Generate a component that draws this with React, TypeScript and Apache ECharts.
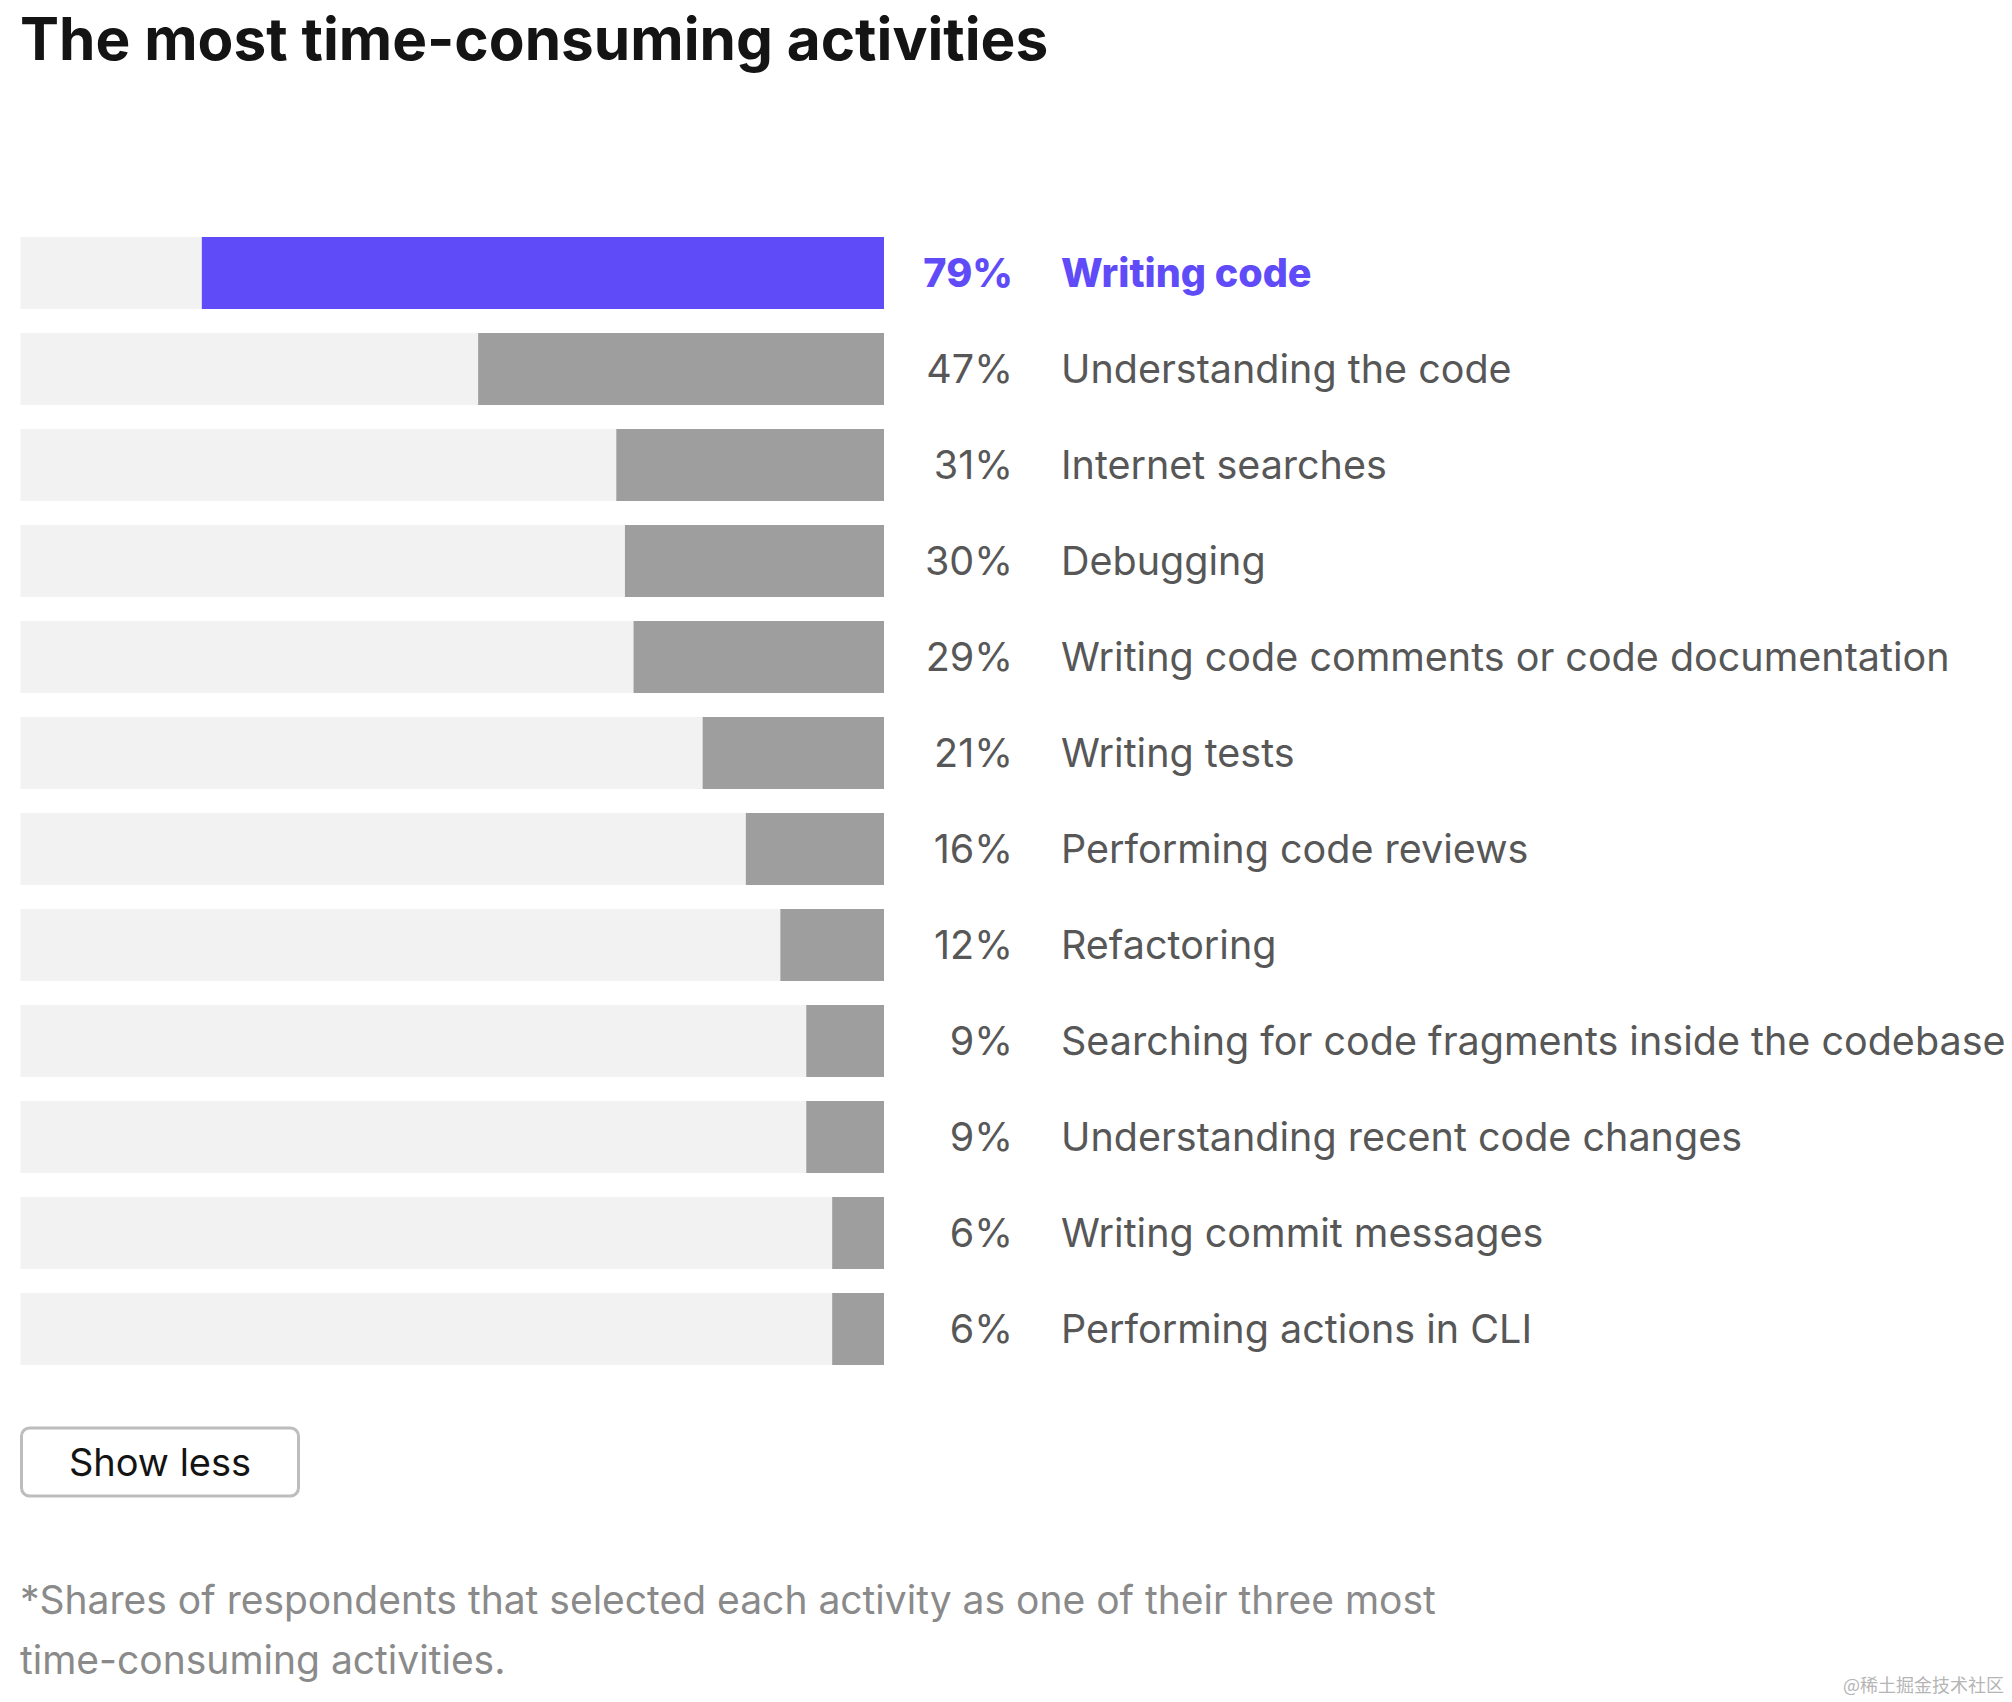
import React, { useEffect, useRef } from "react";
import * as echarts from "echarts";

const titleText = "The most time-consuming activities";
const categories = [
  "Writing code",
  "Understanding the code",
  "Internet searches",
  "Debugging",
  "Writing code comments or code documentation",
  "Writing tests",
  "Performing code reviews",
  "Refactoring",
  "Searching for code fragments inside the codebase",
  "Understanding recent code changes",
  "Writing commit messages",
  "Performing actions in CLI",
];
const values = [79, 47, 31, 30, 29, 21, 16, 12, 9, 9, 6, 6];
const highlightIndex = 0;
const buttonLabel = "Show less";
const footnoteLines = [
  "*Shares of respondents that selected each activity as one of their three most",
  "time-consuming activities.",
];
const watermarkText = "@稀土掘金技术社区";

const W = 2012;
const H = 1702;
const FONT = "Inter, 'Noto Sans', sans-serif";
const PURPLE = "#5f4bf8";
const GREY_BAR = "#9e9e9e";
const BG_BAR = "#f2f2f2";
const LABEL = "#575757";

export default function App() {
  const ref = useRef<HTMLDivElement>(null);
  useEffect(() => {
    document.body.style.margin = "0";
    const chart = echarts.init(ref.current!, null, { renderer: "svg" });
    const labelBase = { fontFamily: FONT, fontSize: 39.5, color: LABEL };
    const hiBase = { ...labelBase, color: PURPLE, fontWeight: 800 };
    const baseAxis = {
      type: "category",
      data: categories,
      inverse: true,
      position: "right",
      axisLine: { show: false },
      axisTick: { show: false },
      splitLine: { show: false },
    };
    chart.setOption({
      animation: false,
      backgroundColor: "#ffffff",
      grid: { left: 20.5, top: 225, width: 863.5, height: 1152, containLabel: false },
      xAxis: { type: "value", min: 0, max: 100, inverse: true, show: false },
      yAxis: [
        {
          ...baseAxis,
          axisLabel: {
            margin: 177,
            align: "left",
            formatter: (v: string, i: number) => (i === highlightIndex ? `{h|${v}}` : `{n|${v}}`),
            rich: { n: labelBase, h: hiBase },
          },
        },
        {
          ...baseAxis,
          axisLabel: {
            margin: 129,
            align: "right",
            formatter: (_v: string, i: number) =>
              i === highlightIndex ? `{h|${values[i]}%}` : `{n|${values[i]}%}`,
            rich: { n: labelBase, h: hiBase },
          },
        },
      ],
      series: [
        {
          type: "bar",
          yAxisIndex: 0,
          barWidth: 72,
          showBackground: true,
          backgroundStyle: { color: BG_BAR },
          data: values.map((v, i) => ({
            value: v,
            itemStyle: { color: i === highlightIndex ? PURPLE : GREY_BAR },
          })),
        },
      ],
      graphic: [
        {
          type: "text",
          left: 20,
          top: 9,
          style: { text: titleText, fontFamily: FONT, fontSize: 58.5, fontWeight: 700, fill: "#141414" },
        },
        {
          type: "rect",
          shape: { x: 21.5, y: 1428, width: 277, height: 68, r: 8 },
          style: { fill: "#ffffff", stroke: "#bdbdbd", lineWidth: 3 },
        },
        {
          type: "text",
          x: 160,
          y: 1462,
          style: {
            text: buttonLabel,
            fontFamily: FONT,
            fontSize: 38,
            fill: "#141414",
            align: "center",
            verticalAlign: "middle",
          },
        },
        ...footnoteLines.map((t, i) => ({
          type: "text",
          x: 20,
          y: 1599 + i * 60,
          style: {
            text: t,
            fontFamily: FONT,
            fontSize: 39,
            fill: "#8a8a8a",
            verticalAlign: "middle",
          },
        })),
        {
          type: "text",
          x: 2004,
          y: 1684,
          style: {
            text: watermarkText,
            fontFamily: "'Noto Sans CJK SC', sans-serif",
            fontSize: 18,
            fill: "#b5b5b5",
            align: "right",
            verticalAlign: "middle",
          },
        },
      ],
    });
    return () => chart.dispose();
  }, []);
  return <div ref={ref} style={{ width: W, height: H }} />;
}
